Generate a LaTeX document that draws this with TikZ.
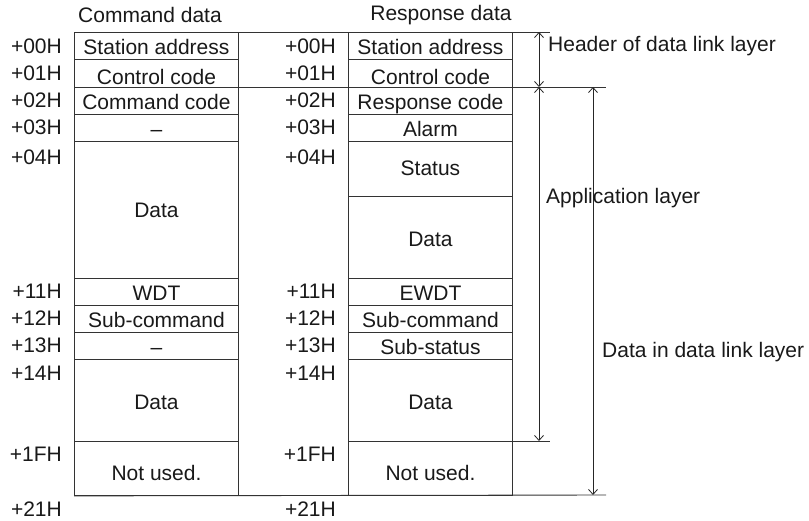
\documentclass[tikz,border=0pt]{standalone}
\usepackage{fontspec}
\setmainfont{Liberation Sans}
\usetikzlibrary{arrows.meta}
\begin{document}
\begin{tikzpicture}[x=1pt,y=-1pt,
 every node/.style={font=\fontsize{21}{25}\selectfont, text=black!90, inner sep=0pt},
 cell/.style={draw=black!80, line width=0.9pt, minimum width=164pt, anchor=north west, text height=18pt, text depth=0pt},
 ln/.style={draw=black!80, line width=0.9pt},
 dim/.style={draw=black!85, line width=0.8pt, {Straight Barb[length=5pt,width=9pt]}-{Straight Barb[length=5pt,width=9pt]}},
 off/.style={anchor=east},
 lbl/.style={anchor=west}]
\useasboundingbox (0,0) rectangle (809,521);

% titles
\node (tc) at (150,15) {Command data};
\node (tr) at (441,15) {Response data};

% command cells
\node[cell, minimum height=27pt] (c00) at (74,32) {Station address};
\node[cell, minimum height=28pt, text height=23pt] (c01) at (74,59) {Control code};
\node[cell, minimum height=27pt] (c02) at (74,87) {Command code};
\node[cell, minimum height=27pt] (c03) at (74,114) {–};
\node[cell, minimum height=137pt, text height=15pt] (c04) at (74,141) {Data};
\node[cell, minimum height=27pt] (c11) at (74,278) {WDT};
\node[cell, minimum height=27pt] (c12) at (74,305) {Sub-command};
\node[cell, minimum height=27pt] (c13) at (74,332) {–};
\node[cell, minimum height=82pt] (c14) at (74,359) {Data};
\node[cell, minimum height=54pt, text height=25pt] (c1F) at (74,441) {Not used.};

% response cells
\node[cell, minimum height=27pt] (r00) at (348,32) {Station address};
\node[cell, minimum height=28pt, text height=23pt] (r01) at (348,59) {Control code};
\node[cell, minimum height=27pt] (r02) at (348,87) {Response code};
\node[cell, minimum height=27pt] (r03) at (348,114) {Alarm};
\node[cell, minimum height=55pt, text height=13pt] (r04) at (348,141) {Status};
\node[cell, minimum height=82pt] (r05) at (348,196) {Data};
\node[cell, minimum height=27pt] (r11) at (348,278) {EWDT};
\node[cell, minimum height=27pt] (r12) at (348,305) {Sub-command};
\node[cell, minimum height=27pt] (r13) at (348,332) {Sub-status};
\node[cell, minimum height=82pt] (r14) at (348,359) {Data};
\node[cell, minimum height=54pt, text height=25pt] (r1F) at (348,441) {Not used.};

% offsets, command side
\node[off] (o00) at (62,46) {+00H};
\node[off] (o01) at (62,73) {+01H};
\node[off] (o02) at (62,100) {+02H};
\node[off] (o03) at (62,127) {+03H};
\node[off] (o04) at (62,157) {+04H};
\node[off] (o11) at (62,291) {+11H};
\node[off] (o12) at (62,318) {+12H};
\node[off] (o13) at (62,345) {+13H};
\node[off] (o14) at (62,373) {+14H};
\node[off] (o1F) at (62,454) {+1FH};
\node[off] (o21) at (62,509) {+21H};

% offsets, response side
\node[off] (p00) at (336,46) {+00H};
\node[off] (p01) at (336,73) {+01H};
\node[off] (p02) at (336,100) {+02H};
\node[off] (p03) at (336,127) {+03H};
\node[off] (p04) at (336,157) {+04H};
\node[off] (p11) at (336,291) {+11H};
\node[off] (p12) at (336,318) {+12H};
\node[off] (p13) at (336,345) {+13H};
\node[off] (p14) at (336,373) {+14H};
\node[off] (p1F) at (336,454) {+1FH};
\node[off] (p21) at (336,509) {+21H};

% extension lines
\coordinate (hT) at (550,32);
\coordinate (h87) at (606,87);
\coordinate (h441) at (550,441);
\coordinate (hB) at (606,495);
\draw[ln] (c00.north west) -- (hT);
\draw[ln] (c02.north west) -- (h87);
\draw[ln] (r1F.north east) -- (h441);
\draw[ln] (c1F.south west) -- (hB);

% dimension arrows
\coordinate (a1) at (539,32);
\coordinate (a2) at (539,87);
\coordinate (a3) at (539,441);
\coordinate (b1) at (593,87);
\coordinate (b2) at (593,495);
\draw[dim] (a1) -- (a2);
\draw[dim] (a2) -- (a3);
\draw[dim] (b1) -- (b2);

% labels
\node[lbl] (hdr) at (548,46) {Header of data link layer};
\node[lbl] (app) at (546,198) {Application layer};
\node[lbl] (ddl) at (602,352) {Data in data link layer};
\end{tikzpicture}
\end{document}
